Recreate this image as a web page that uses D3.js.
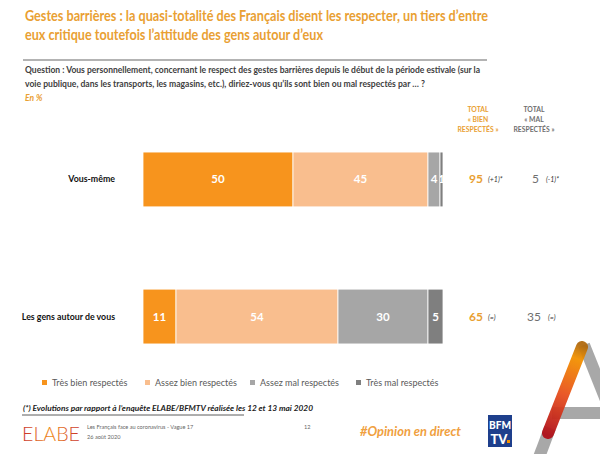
<!DOCTYPE html>
<html><head><meta charset="utf-8">
<script src="https://cdn.jsdelivr.net/npm/d3@7"></script>
<style>
html,body{margin:0;padding:0;background:#fff;}
svg{display:block;font-family:Lato,"Open Sans",sans-serif;}
</style></head>
<body>
<svg id="c" width="600" height="454"></svg>
<script>
// ---- DATA ----
const categories = ["Vous-même", "Les gens autour de vous"];
const seriesNames = ["Très bien respectés", "Assez bien respectés", "Assez mal respectés", "Très mal respectés"];
const tresBien = [50, 11];
const assezBien = [45, 54];
const assezMal = [4, 30];
const tresMal = [1, 5];
const totalBien = [95, 65];
const totalMal = [5, 35];
const evolBien = ["(+1)*", "(=)"];
const evolMal = ["(-1)*", "(=)"];
const seriesColors = ["#F7941D", "#F9BE8E", "#A6A6A6", "#7F7F7F"];

const svg = d3.select("#c");
const ORANGE = "#E9A033";

function fitText(sel, w) {
  sel.each(function(){ const l = this.getComputedTextLength(); if (l > 0) { this.setAttribute("textLength", w); this.setAttribute("lengthAdjust","spacingAndGlyphs"); } });
}

// Title
const t1 = svg.append("text").attr("x", 25).attr("y", 21).attr("fill", ORANGE).attr("font-weight", 700).attr("font-size", 15.5)
  .text("Gestes barrières : la quasi-totalité des Français disent les respecter, un tiers d’entre");
fitText(t1, 463);
const t2 = svg.append("text").attr("x", 25).attr("y", 40).attr("fill", ORANGE).attr("font-weight", 700).attr("font-size", 15.5)
  .text("eux critique toutefois l’attitude des gens autour d’eux");
fitText(t2, 298);
svg.append("line").attr("x1", 23).attr("x2", 487).attr("y1", 60).attr("y2", 60).attr("stroke", "#9a9a9a").attr("stroke-width", 1.5);

const q1 = svg.append("text").attr("x", 25).attr("y", 73).attr("fill", "#404040").attr("font-weight", 700).attr("font-size", 8.6)
  .text("Question : Vous personnellement, concernant le respect des gestes barrières depuis le début de la période estivale (sur la");
fitText(q1, 455);
const q2 = svg.append("text").attr("x", 25).attr("y", 87).attr("fill", "#404040").attr("font-weight", 700).attr("font-size", 8.6)
  .text("voie publique, dans les transports, les magasins, etc.), diriez-vous qu’ils sont bien ou mal respectés par … ?");
fitText(q2, 400);
svg.append("text").attr("x", 25).attr("y", 101).attr("fill", ORANGE).attr("font-weight", 700).attr("font-style", "italic").attr("font-size", 8.5).text("En %");

// headers
const hdrB = ["TOTAL", "« BIEN", "RESPECTÉS »"];
const hdrM = ["TOTAL", "« MAL", "RESPECTÉS »"];
hdrB.forEach((s, i) => svg.append("text").attr("x", 478).attr("y", 112 + i * 10).attr("text-anchor", "middle").attr("fill", ORANGE).attr("font-size", 6.8).attr("font-weight", 700).text(s));
hdrM.forEach((s, i) => svg.append("text").attr("x", 534).attr("y", 112 + i * 10).attr("text-anchor", "middle").attr("fill", "#6f6f6f").attr("font-size", 6.8).attr("font-weight", 700).text(s));

// scales
const x = d3.scaleLinear().domain([0, 100]).range([143, 443]);
const y = d3.scaleBand().domain(categories).range([83.5, 412.5]).paddingInner(0.6).paddingOuter(0.5);
const bh = y.bandwidth();

const stackData = categories.map((c, i) => ({ cat: c, s0: tresBien[i], s1: assezBien[i], s2: assezMal[i], s3: tresMal[i] }));
const stack = d3.stack().keys(["s0", "s1", "s2", "s3"])(stackData);

const defs = svg.append("defs");
stack.forEach((layer, k) => {
  const g = svg.append("g");
  layer.forEach((d, i) => {
    const id = "clip" + k + "_" + i;
    defs.append("clipPath").attr("id", id).append("rect")
      .attr("x", x(d[0])).attr("y", y(categories[i])).attr("width", x(d[1]) - x(d[0])).attr("height", bh);
    g.append("rect").attr("x", x(d[0])).attr("y", y(categories[i])).attr("width", x(d[1]) - x(d[0])).attr("height", bh)
      .attr("fill", seriesColors[k]).attr("stroke", "#fff").attr("stroke-width", 0.8);
    g.append("text").attr("clip-path", "url(#" + id + ")")
      .attr("x", (x(d[0]) + x(d[1])) / 2).attr("y", y(categories[i]) + bh / 2 + 4)
      .attr("text-anchor", "middle").attr("fill", "#fff").attr("font-weight", 700).attr("font-size", 11.5)
      .text(d[1] - d[0]);
  });
});

// category labels
categories.forEach((c, i) => {
  svg.append("text").attr("x", 115).attr("y", y(c) + bh / 2 + 3).attr("text-anchor", "end").attr("fill", "#111")
    .attr("font-weight", 700).attr("font-size", 8.8).text(c);
  svg.append("text").attr("x", 483).attr("y", y(c) + bh / 2 + 4).attr("text-anchor", "end").attr("fill", ORANGE)
    .attr("font-weight", 700).attr("font-size", 12).text(totalBien[i]);
  svg.append("text").attr("x", 488).attr("y", y(c) + bh / 2 + 3).attr("fill", "#333")
    .attr("font-style", "italic").attr("font-size", 7).text(evolBien[i]);
  svg.append("text").attr("x", i === 0 ? 539 : 541).attr("y", y(c) + bh / 2 + 4).attr("text-anchor", "end").attr("fill", "#6f6f6f")
    .attr("font-size", 12).text(totalMal[i]);
  svg.append("text").attr("x", i === 0 ? 546 : 548).attr("y", y(c) + bh / 2 + 3).attr("fill", "#333")
    .attr("font-style", "italic").attr("font-size", 7).text(evolMal[i]);
});

// legend
const legX = [42, 145, 250, 356];
seriesNames.forEach((s, k) => {
  svg.append("rect").attr("x", legX[k]).attr("y", 380).attr("width", 5).attr("height", 5).attr("fill", seriesColors[k]);
  svg.append("text").attr("x", legX[k] + 10).attr("y", 386).attr("fill", "#595959").attr("font-size", 9).text(s);
});

// footnote
const fn = svg.append("text").attr("x", 23).attr("y", 411).attr("fill", "#222").attr("font-style", "italic").attr("font-weight", 700).attr("font-size", 7.6)
  .text("(*) Evolutions par rapport à l’enquête ELABE/BFMTV réalisée les 12 et 13 mai 2020");
fitText(fn, 290);
svg.append("line").attr("x1", 22).attr("x2", 244).attr("y1", 415).attr("y2", 415).attr("stroke", "#333").attr("stroke-width", 0.8);

// ELABE logo
const lg = defs.append("linearGradient").attr("id", "elabe").attr("x1", "0").attr("x2", "1");
lg.append("stop").attr("offset", "0").attr("stop-color", "#C8302B");
lg.append("stop").attr("offset", "0.5").attr("stop-color", "#F08A1E");
lg.append("stop").attr("offset", "1").attr("stop-color", "#C8302B");
svg.append("text").attr("x", 22).attr("y", 441).attr("fill", "url(#elabe)").attr("font-size", 19).attr("font-family", "Lato").attr("font-weight", 300)
  .attr("textLength", 58).attr("lengthAdjust", "spacingAndGlyphs").text("ELABE");
svg.append("text").attr("x", 87).attr("y", 429).attr("fill", "#666").attr("font-size", 5.6).text("Les Français face au coronavirus - Vague 17");
svg.append("text").attr("x", 87).attr("y", 439).attr("fill", "#666").attr("font-size", 5.6).text("26 août 2020");
svg.append("text").attr("x", 304).attr("y", 429).attr("fill", "#666").attr("font-size", 5.6).text("12");
const op = svg.append("text").attr("x", 360).attr("y", 436).attr("fill", "#F0A040").attr("font-size", 12.5).attr("font-weight", 700).attr("font-style", "italic")
  .text("#Opinion en direct");
fitText(op, 101);

// BFMTV logo
svg.append("rect").attr("x", 488).attr("y", 415).attr("width", 24).attr("height", 32).attr("fill", "#1E3F8C");
svg.append("text").attr("x", 500).attr("y", 429).attr("text-anchor", "middle").attr("fill", "#fff").attr("font-weight", 900).attr("font-size", 11)
  .attr("textLength", 22).attr("lengthAdjust", "spacingAndGlyphs").text("BFM");
svg.append("text").attr("x", 499).attr("y", 444).attr("text-anchor", "middle").attr("fill", "#fff").attr("font-weight", 900).attr("font-size", 13).text("TV");
svg.append("rect").attr("x", 507).attr("y", 440).attr("width", 3).attr("height", 3).attr("fill", "#F39200");

// A decoration
const gA = defs.append("linearGradient").attr("id", "ag").attr("gradientUnits", "userSpaceOnUse")
  .attr("x1", 582).attr("y1", 345).attr("x2", 548).attr("y2", 435);
gA.append("stop").attr("offset", "0").attr("stop-color", "#B06A10");
gA.append("stop").attr("offset", "0.15").attr("stop-color", "#F39200");
gA.append("stop").attr("offset", "0.55").attr("stop-color", "#E8501E");
gA.append("stop").attr("offset", "1").attr("stop-color", "#B0101A");
svg.append("line").attr("x1", 584).attr("y1", 345).attr("x2", 618).attr("y2", 430).attr("stroke", "#A8A8A8").attr("stroke-width", 12);
svg.append("line").attr("x1", 550).attr("y1", 428).attr("x2", 538).attr("y2", 460).attr("stroke", "#A8A8A8").attr("stroke-width", 12);
svg.append("rect").attr("x", 552).attr("y", 407).attr("width", 48).attr("height", 12).attr("fill", "#A8A8A8");
svg.append("line").attr("x1", 582).attr("y1", 347).attr("x2", 548).attr("y2", 433).attr("stroke", "url(#ag)").attr("stroke-width", 12).attr("stroke-linecap", "round").attr("opacity", 0.95);
</script>
</body></html>
